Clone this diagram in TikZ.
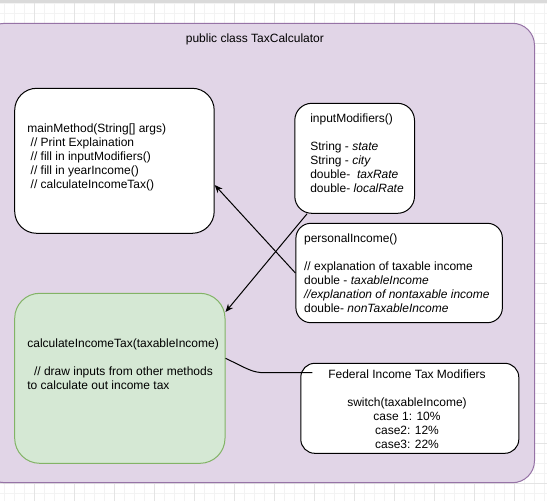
\documentclass[tikz,border=0pt]{standalone}
\usepackage{fontspec}
\setmainfont{Liberation Sans}
\usetikzlibrary{arrows.meta}

\definecolor{classfill}{HTML}{E1D5E7}
\definecolor{classline}{HTML}{9673A6}
\definecolor{calcfill}{HTML}{D5E8D4}
\definecolor{calcline}{HTML}{82B366}
\definecolor{gridminor}{HTML}{F3F3F3}
\definecolor{gridmajor}{HTML}{E4E4E4}
\definecolor{topbar}{HTML}{DADADA}

\begin{document}
\begin{tikzpicture}[x=1pt, y=-1pt, line width=1pt,
    box/.style={draw, fill=white, inner sep=0pt},
    txt/.style={font=\fontsize{12}{14}\selectfont, inner sep=0pt, align=left},
    arr/.style={-{Stealth[length=8pt, width=6.5pt]}}]
    \useasboundingbox (0, 0) rectangle (547, 501);
    \clip (0, 0) rectangle (547, 501);

    % Background grid
    \foreach \x in {4.3, 14.3, ..., 544.3} \draw[gridminor] (\x, 0) -- (\x, 501);
    \foreach \y in {3.3, 13.3, ..., 499.3} \draw[gridminor] (0, \y) -- (547, \y);
    \foreach \x in {34.3, 74.3, ..., 544.3} \draw[gridmajor] (\x, 0) -- (\x, 501);
    \foreach \y in {43.3, 83.3, ..., 499.3} \draw[gridmajor] (0, \y) -- (547, \y);
    \fill[topbar] (0, 0) rectangle (547, 2.5);

    % The class container
    \node[draw=classline, fill=classfill, rounded corners=22pt, minimum width=551.5pt, minimum height=459.4pt] (cls) at (258.75, 253) {};
    \node[txt] (title) at (254.9, 39) {public class TaxCalculator};

    % Method boxes
    \node[box, rounded corners=22pt, minimum width=199.5pt, minimum height=145pt] (main) at (114.45, 160.8) {};
    \node[box, rounded corners=17pt, minimum width=119.7pt, minimum height=110pt] (input) at (354.65, 158.3) {};
    \node[box, rounded corners=15pt, minimum width=206.5pt, minimum height=99.4pt] (personal) at (399.15, 273) {};
    \node[box, draw=calcline, fill=calcfill, rounded corners=25pt, minimum width=210.3pt, minimum height=170pt] (calc) at (119.85, 378.3) {};
    \node[box, rounded corners=14pt, minimum width=218pt, minimum height=90pt] (fed) at (409.8, 408.3) {};

    % Texts of the boxes
    \node[txt, anchor=west] (mainText) at (26.9, 157.4) {mainMethod(String[] args)\\
        \ // Print Explaination\\ \ // fill in inputModifiers()\\ \ // fill in yearIncome()\\ \ // calculateIncomeTax()};
    \node[txt, anchor=west] (inputText) at (309.8, 153.5) {inputModifiers()\\[14pt]
        String - \textit{state}\\ String - \textit{city}\\ double-\ \ \textit{taxRate}\\ double- \textit{localRate}};
    \node[txt, anchor=west] (personalText) at (303.6, 273.7) {personalIncome()\\[14pt]
        // explanation of taxable income\\ double - \textit{taxableIncome}\\
        \textit{//explanation of nontaxable income}\\ double- \textit{nonTaxableIncome}};
    \node[txt, anchor=west] (calcText) at (26.9, 364.6) {calculateIncomeTax(taxableIncome)\\[14pt]
        \ \ // draw inputs from other methods\\ to calculate out income tax};
    \node[txt, align=center] (fedText) at (407, 409.5) {Federal Income Tax Modifiers\\[14pt]
        switch(taxableIncome)\\ case 1: 10\%\\ case2: 12\%\\ case3: 22\%};

    % Connectors
    \coordinate (fedIn) at (312.3, 372.7);
    \draw[arr] (personal.west) -- ([yshift=-24.2pt]main.east);
    \draw[arr] ([xshift=-47.6pt]input.south) -- ([yshift=66.3pt]calc.east);
    \draw ([yshift=20pt]calc.east) .. controls (248, 369) and (252, 372.7) .. (265, 372.7) -- (fedIn);
\end{tikzpicture}
\end{document}
